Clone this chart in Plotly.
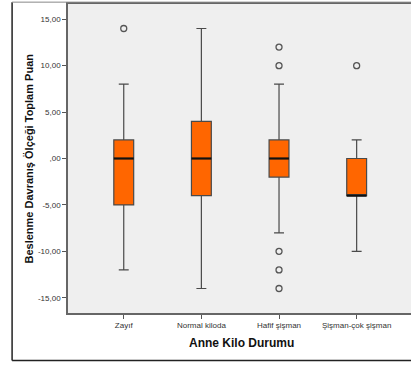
import plotly.graph_objects as go

categories = ["Zayıf", "Normal kiloda", "Hafif şişman", "Şişman-çok şişman"]
upper_whisker = [8, 14, 8, 2]
q3 = [2, 4, 2, 0]
median = [0, 0, 0, -4]
q1 = [-5, -4, -2, -4]
lower_whisker = [-12, -14, -8, -10]
outliers = [[14], [], [12, 10, -10, -12, -14], [10]]

y_tickvals = [15, 10, 5, 0, -5, -10, -15]
y_ticktext = ["15,00", "10,00", "5,00", ",00", "-5,00", "-10,00", "-15,00"]

pos = list(range(len(categories)))
box_w = 0.256

fig = go.Figure()
fig.add_trace(go.Box(
    x=pos, q1=q1, median=median, q3=q3,
    lowerfence=lower_whisker, upperfence=upper_whisker,
    width=box_w, whiskerwidth=0.5,
    fillcolor="#ff6600", line=dict(color="#4a4a4a", width=1.2),
    boxpoints=False, showlegend=False, hoverinfo="skip",
))

mx, my = [], []
for i, m in zip(pos, median):
    mx += [i - box_w / 2, i + box_w / 2, None]
    my += [m, m, None]
fig.add_trace(go.Scatter(x=mx, y=my, mode="lines",
                         line=dict(color="#111111", width=2.2),
                         showlegend=False, hoverinfo="skip"))

ox, oy = [], []
for i, vals in zip(pos, outliers):
    for v in vals:
        ox.append(i)
        oy.append(v)
fig.add_trace(go.Scatter(x=ox, y=oy, mode="markers",
                         marker=dict(symbol="circle-open", size=6,
                                     color="#555555", line=dict(width=1.3)),
                         showlegend=False, hoverinfo="skip"))

font = "Liberation Sans, Arial, sans-serif"
fig.update_layout(
    width=411, height=367,
    margin=dict(l=68, r=0, t=4, b=54),
    paper_bgcolor="white", plot_bgcolor="#efefef",
    font=dict(family=font, size=8, color="#333333"),
    xaxis=dict(range=[-0.718, 3.7], tickvals=pos, ticktext=categories,
               ticks="outside", ticklen=4, tickcolor="#555555",
               showline=True, linecolor="#666666", linewidth=1.5, mirror=True,
               showgrid=False, zeroline=False, tickfont=dict(size=8)),
    yaxis=dict(range=[-16.64, 16.64], tickvals=y_tickvals, ticktext=y_ticktext,
               ticks="outside", ticklen=4, tickcolor="#555555",
               showline=True, linecolor="#666666", linewidth=1.5,
               showgrid=False, zeroline=False, tickfont=dict(size=8)),
    annotations=[
        dict(text="<b>Beslenme Davranış Ölçeği Toplam Puan</b>", xref="paper", yref="paper",
             x=-0.1166, y=0.5, textangle=-90, showarrow=False,
             font=dict(size=11, color="#111111"), xanchor="center", yanchor="middle"),
        dict(text="<b>Anne Kilo Durumu</b>", xref="paper", yref="paper",
             x=0.506, y=-0.097, showarrow=False,
             font=dict(size=12, color="#111111"), xanchor="center", yanchor="middle"),
    ],
    shapes=[
        dict(type="line", xref="paper", yref="paper", x0=-0.163, x1=-0.163,
             y0=-0.154, y1=1.006, line=dict(color="#222222", width=1.5)),
        dict(type="line", xref="paper", yref="paper", x0=-0.163, x1=1.05,
             y0=-0.154, y1=-0.154, line=dict(color="#222222", width=1.5)),
        dict(type="line", xref="paper", yref="paper", x0=-0.163, x1=1.05,
             y0=1.006, y1=1.006, line=dict(color="#888888", width=1)),
    ],
)

fig.write_html(
    "out.html",
    config={"displayModeBar": False},
    post_script=(
        "document.documentElement.style.margin='0';"
        "document.documentElement.style.overflow='hidden';"
        "document.body.style.margin='0';document.body.style.padding='0';"
        "document.body.style.overflow='hidden';"
    ),
)
